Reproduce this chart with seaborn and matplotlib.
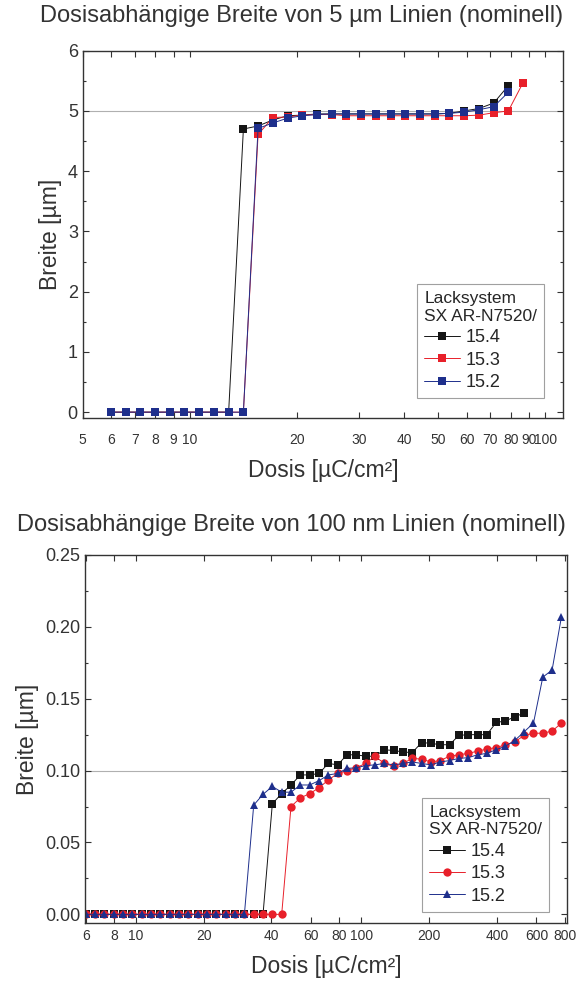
import numpy as np
import pandas as pd
import matplotlib
matplotlib.use("Agg")
import matplotlib.pyplot as plt
import matplotlib.ticker as mticker
import seaborn as sns

# dose steps (µC/cm²)
dose = [6.0, 6.6, 7.26, 7.99, 8.78, 9.66, 10.63, 11.69, 12.86, 14.15,
        15.56, 17.12, 18.83, 20.71, 22.78, 25.06, 27.57, 30.33, 33.36, 36.69,
        40.36, 44.40, 48.84, 53.72, 59.10, 65.01, 71.51, 78.66, 86.52, 95.18,
        104.7, 115.2, 126.7, 139.3, 153.3, 168.6, 185.4, 204.0, 224.4, 246.8,
        271.5, 298.7, 328.5, 361.4, 397.5, 437.3, 481.0, 529.1, 582.0, 640.2,
        704.2, 774.6]

# 5 µm lines
w5_154 = [0, 0, 0, 0, 0, 0, 0, 0, 0,
          4.70, 4.75, 4.85, 4.92, 4.93, 4.95, 4.95, 4.95, 4.95, 4.95, 4.95,
          4.95, 4.95, 4.95, 4.96, 5.00, 5.04, 5.13, 5.42]
w5_153 = [0, 0, 0, 0, 0, 0, 0, 0, 0, 0,
          4.61, 4.89, 4.90, 4.93, 4.94, 4.94, 4.92, 4.92, 4.92, 4.92,
          4.92, 4.92, 4.92, 4.92, 4.92, 4.93, 4.97, 5.00, 5.47]
w5_152 = [0, 0, 0, 0, 0, 0, 0, 0, 0, 0,
          4.71, 4.80, 4.88, 4.92, 4.94, 4.95, 4.95, 4.95, 4.95, 4.95,
          4.95, 4.95, 4.95, 4.96, 4.98, 5.02, 5.07, 5.31]

# 100 nm lines
w100_154 = [0, 0, 0, 0, 0, 0, 0, 0, 0, 0, 0, 0, 0, 0, 0, 0, 0, 0, 0, 0,
            0.077, 0.084, 0.090, 0.097, 0.097, 0.098, 0.105, 0.104, 0.111, 0.111,
            0.110, 0.110, 0.1145, 0.114, 0.113, 0.1125, 0.1195, 0.119, 0.118, 0.118,
            0.1245, 0.125, 0.125, 0.125, 0.1335, 0.1345, 0.1375, 0.140]
w100_153 = [0, 0, 0, 0, 0, 0, 0, 0, 0, 0, 0, 0, 0, 0, 0, 0, 0, 0, 0, 0, 0, 0,
            0.075, 0.081, 0.084, 0.088, 0.0935, 0.098, 0.100, 0.102, 0.105, 0.110,
            0.105, 0.103, 0.105, 0.1085, 0.108, 0.106, 0.107, 0.110, 0.111, 0.112,
            0.1135, 0.115, 0.116, 0.118, 0.120, 0.1245, 0.126, 0.126, 0.1275, 0.133]
w100_152 = [0, 0, 0, 0, 0, 0, 0, 0, 0, 0, 0, 0, 0, 0, 0, 0, 0, 0,
            0.076, 0.0835, 0.089, 0.085, 0.085, 0.090, 0.090, 0.093, 0.097, 0.098,
            0.1015, 0.102, 0.1035, 0.104, 0.105, 0.104, 0.105, 0.106, 0.105, 0.104,
            0.106, 0.107, 0.1085, 0.109, 0.111, 0.112, 0.1145, 0.117, 0.121, 0.127,
            0.133, 0.165, 0.170, 0.207]

systems = ["15.4", "15.3", "15.2"]
colors = {"15.4": "#151515", "15.3": "#e8202a", "15.2": "#1e2f8c"}


def long_df(series):
    rows = []
    for name, vals in zip(systems, series):
        for d, v in zip(dose, vals):
            rows.append({"Dosis": d, "Breite": v, "System": name})
    return pd.DataFrame(rows)


df5 = long_df([w5_154, w5_153, w5_152])
df100 = long_df([w100_154, w100_153, w100_152])

sns.set_theme(style="ticks")
plt.rcParams["font.family"] = ["Liberation Sans", "DejaVu Sans"]
plt.rcParams["axes.edgecolor"] = "#333333"
plt.rcParams["xtick.color"] = "#333333"
plt.rcParams["ytick.color"] = "#333333"

fig = plt.figure(figsize=(5.8, 9.84), dpi=100)
ax1 = fig.add_axes([0.1426, 0.575, 0.828, 0.3735])
ax2 = fig.add_axes([0.1466, 0.062, 0.831, 0.374])


def style_axis(ax, xticks, yticks, yminor, xlim, ylim, ref, xpad, lpad):
    ax.axhline(ref, color="#b0b0b0", lw=0.8, zorder=0)
    ax.set_xscale("log")
    ax.set_xlim(*xlim)
    ax.set_ylim(*ylim)
    ax.xaxis.set_major_locator(mticker.FixedLocator(xticks))
    ax.xaxis.set_major_formatter(mticker.FixedFormatter([str(t) for t in xticks]))
    ax.xaxis.set_minor_locator(mticker.NullLocator())
    ax.yaxis.set_major_locator(mticker.FixedLocator(yticks))
    ax.yaxis.set_minor_locator(mticker.MultipleLocator(yminor))
    ax.tick_params(which="both", direction="in", top=True, right=True,
                   labelcolor="#333333")
    ax.tick_params(axis="x", labelsize=10, pad=xpad)
    ax.tick_params(axis="y", labelsize=13)
    ax.tick_params(which="major", length=4, width=0.8)
    ax.tick_params(which="minor", length=2.5, width=0.8)
    for s in ax.spines.values():
        s.set_linewidth(1.0)
    ax.set_xlabel("Dosis [µC/cm²]", fontsize=16.5, color="#333333", labelpad=lpad)
    ax.set_ylabel("Breite [µm]", fontsize=16.5, color="#333333", labelpad=4)


sns.lineplot(data=df5, x="Dosis", y="Breite", hue="System", style="System",
             hue_order=systems, style_order=systems, palette=colors,
             markers={"15.4": "s", "15.3": "s", "15.2": "s"}, dashes=False,
             markersize=5.5, markeredgewidth=0, lw=0.7, ax=ax1)
style_axis(ax1, [5, 6, 7, 8, 9, 10, 20, 30, 40, 50, 60, 70, 80, 90, 100],
           [0, 1, 2, 3, 4, 5, 6], 0.5, (5, 112), (-0.1, 6), 5, 11, 8)
ax1.set_yticklabels(["0", "1", "2", "3", "4", "5", "6"])

sns.lineplot(data=df100, x="Dosis", y="Breite", hue="System", style="System",
             hue_order=systems, style_order=systems, palette=colors,
             markers={"15.4": "s", "15.3": "o", "15.2": "^"}, dashes=False,
             markersize=6, markeredgewidth=0, lw=0.7, ax=ax2)
style_axis(ax2, [6, 8, 10, 20, 40, 60, 80, 100, 200, 400, 600, 800],
           [0, 0.05, 0.10, 0.15, 0.20, 0.25], 0.025, (5.95, 820), (-0.006, 0.25), 0.1,
           4, 9)
ax2.set_yticklabels(["0.00", "0.05", "0.10", "0.15", "0.20", "0.25"])

for ax, loc in [(ax1, (0.696, 0.054)), (ax2, (0.699, 0.03))]:
    handles, labels = ax.get_legend_handles_labels()
    leg = ax.legend(handles, labels, title="Lacksystem\nSX AR-N7520/",
                    loc="lower left", bbox_to_anchor=loc, borderaxespad=0,
                    fontsize=13, title_fontsize=12.5, frameon=True,
                    fancybox=False, edgecolor="#888888", handlelength=2.0,
                    handletextpad=0.3, labelspacing=0.3, borderpad=0.4)
    leg._legend_box.align = "left"
    leg.get_frame().set_linewidth(0.8)

fig.text(0.52, 0.984, "Dosisabhängige Breite von 5 µm Linien (nominell)",
         ha="center", va="center", fontsize=17, color="#333333")
fig.text(0.502, 0.466, "Dosisabhängige Breite von 100 nm Linien (nominell)",
         ha="center", va="center", fontsize=17, color="#333333")

fig.savefig("out.png", dpi=100)
